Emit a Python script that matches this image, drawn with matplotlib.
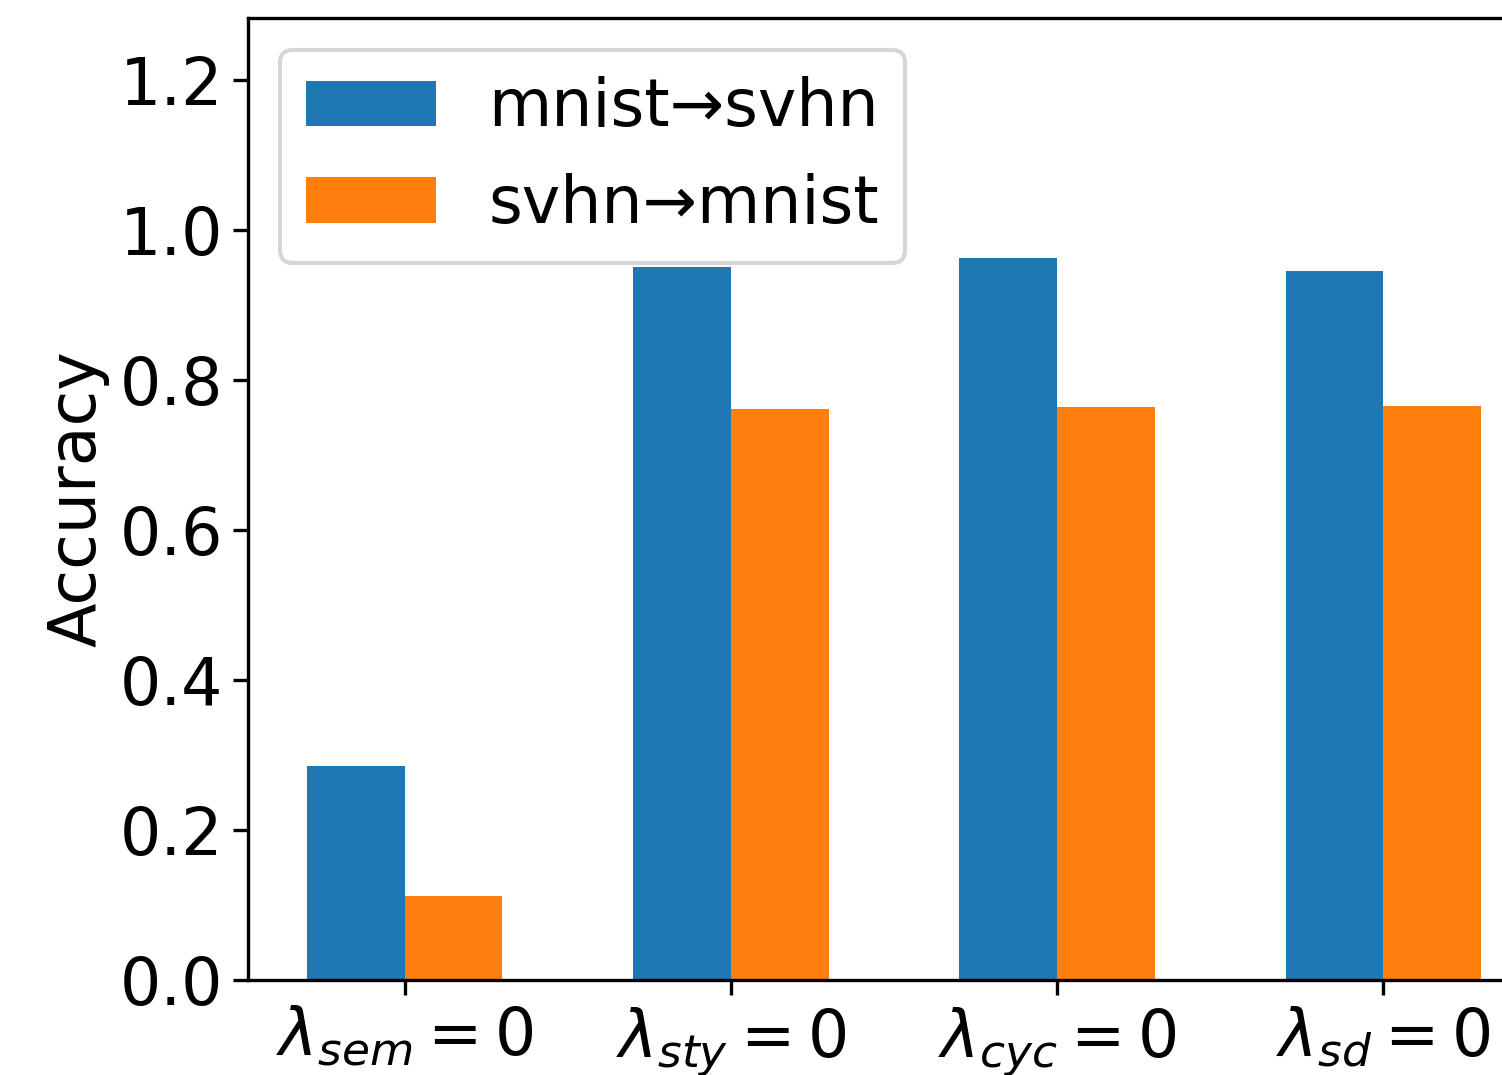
import numpy as np
import matplotlib
matplotlib.use('Agg')
import matplotlib.pyplot as plt

# ablation settings and accuracies
labels = [r'$\lambda_{sem}=0$', r'$\lambda_{sty}=0$', r'$\lambda_{cyc}=0$', r'$\lambda_{sd}=0$']
mnist_to_svhn = [0.285, 0.951, 0.963, 0.945]
svhn_to_mnist = [0.112, 0.761, 0.764, 0.765]
series_names = ['mnist→svhn', 'svhn→mnist']

plt.rcParams['font.size'] = 15.6

fig = plt.figure(figsize=(1502 / 300, 1075 / 300), dpi=300)
# axes run past the right edge like in the cropped original
ax = fig.add_axes([0.1651, 0.0884, 0.8602, 0.8949])

x = np.arange(len(labels))
width = 0.3
ax.bar(x - width / 2, mnist_to_svhn, width, label=series_names[0])
ax.bar(x + width / 2, svhn_to_mnist, width, label=series_names[1])

ax.set_xticks(x)
ax.set_xticklabels(labels)
ax.tick_params(axis='x', pad=2.5)
ax.tick_params(axis='y', pad=2.5)
ax.set_ylabel('Accuracy', labelpad=2.5)
ax.set_xlim(-0.48, 3.48)
ax.set_ylim(0, 1.283)
ax.set_yticks([0.0, 0.2, 0.4, 0.6, 0.8, 1.0, 1.2])
ax.legend(loc='upper left')

fig.savefig('out.png', dpi=300)
plt.close(fig)
